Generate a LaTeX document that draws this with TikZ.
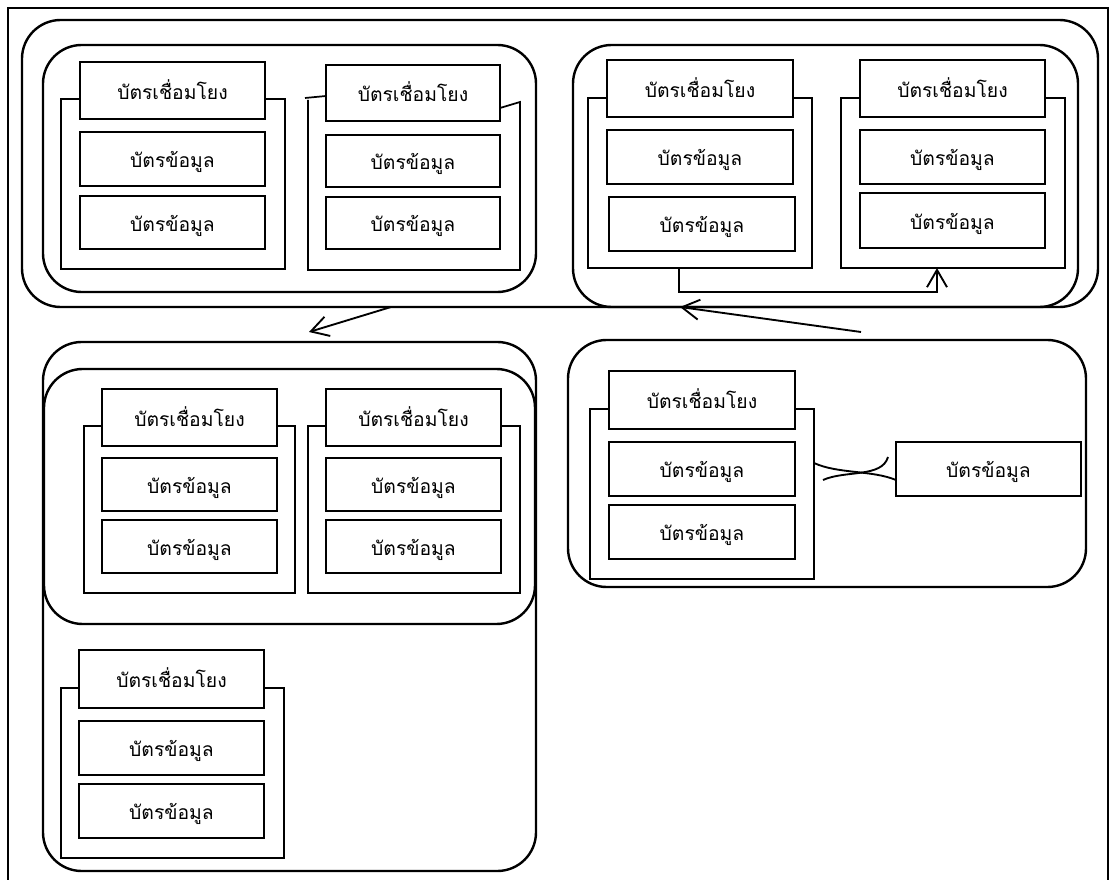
\documentclass[tikz,border=0pt]{standalone}
\usepackage{fontspec}
\newfontfamily\thaifont[Script=Thai]{Loma}
\usetikzlibrary{arrows.meta}

% a plain card: name, two opposite corners, text (text hangs below the centre line)
\newcommand\cardbox[6]{%
  \node[card, minimum width={(#4-#2)*0.75pt}, minimum height={(#5-#3)*0.75pt}]
    (#1) at ({(#2+#4)/2},{(#3+#5)/2}) {\raisebox{-6.5pt}[0pt][0pt]{#6}};}
% open tray under a link card: left x, right x, top y, bottom y, card left x, card right x
\newcommand\tray[6]{\draw[trayline] (#5,#3) -- (#1,#3) -- (#1,#4) -- (#2,#4) -- (#2,#3) -- (#6,#3);}

\tikzset{
  card/.style={draw, line width=0.9pt, inner sep=0pt, outer sep=0pt,
    font=\thaifont\fontsize{14.5}{16}\selectfont},
  panel/.style={draw, line width=1.8pt, rounded corners=29pt},
  trayline/.style={line width=1.3pt},
  link/.style={line width=1.4pt, -{Straight Barb[length=13pt,width=15pt,line width=1.4pt]}},
  joint/.style={line width=1.4pt}
}

\begin{document}
\begin{tikzpicture}[x=0.75pt,y=-0.75pt]
\useasboundingbox (0,0) rectangle (1109,880);

% frame
\draw[line width=1.4pt] (8,880) -- (8,8) -- (1108,8) -- (1108,880);

% panels
\draw[panel] (22,20) rectangle (1098,307);
\draw[panel] (43,45) rectangle (536,292);
\draw[panel] (573,45) rectangle (1078,307);
\draw[panel] (43,342) rectangle (536,871);
\draw[panel] (44,369) rectangle (535,624);
\draw[panel] (568,340) rectangle (1086,587);

% group 1
\cardbox{l1}{80}{62}{265}{119}{บัตรเชื่อมโยง}
\cardbox{d11}{80}{132}{265}{186}{บัตรข้อมูล}
\cardbox{d12}{80}{196}{265}{249}{บัตรข้อมูล}
\tray{61}{285}{99}{269}{80}{265}

% group 2 (tilted tray ends)
\cardbox{l2}{326}{65}{500}{121}{บัตรเชื่อมโยง}
\cardbox{d21}{326}{135}{500}{187}{บัตรข้อมูล}
\cardbox{d22}{326}{197}{500}{249}{บัตรข้อมูล}
\draw[trayline] (326,96) -- (305,98);
\draw[trayline] (308,100) -- (308,270) -- (520,270) -- (520,102) -- (500,108);

% group 3
\cardbox{l3}{607}{60}{793}{117}{บัตรเชื่อมโยง}
\cardbox{d31}{607}{130}{793}{184}{บัตรข้อมูล}
\cardbox{d32}{609}{197}{795}{251}{บัตรข้อมูล}
\tray{588}{812}{98}{268}{607}{793}

% group 4
\cardbox{l4}{860}{60}{1045}{117}{บัตรเชื่อมโยง}
\cardbox{d41}{860}{130}{1045}{184}{บัตรข้อมูล}
\cardbox{d42}{860}{193}{1045}{248}{บัตรข้อมูล}
\tray{841}{1065}{98}{268}{860}{1045}

% group 5
\cardbox{l5}{102}{389}{277}{446}{บัตรเชื่อมโยง}
\cardbox{d51}{102}{458}{277}{511}{บัตรข้อมูล}
\cardbox{d52}{102}{520}{277}{573}{บัตรข้อมูล}
\tray{84}{295}{426}{593}{102}{277}

% group 6
\cardbox{l6}{326}{389}{501}{446}{บัตรเชื่อมโยง}
\cardbox{d61}{326}{458}{501}{511}{บัตรข้อมูล}
\cardbox{d62}{326}{520}{501}{573}{บัตรข้อมูล}
\tray{308}{520}{426}{593}{326}{501}

% group 7
\cardbox{l7}{79}{650}{264}{708}{บัตรเชื่อมโยง}
\cardbox{d71}{79}{721}{264}{775}{บัตรข้อมูล}
\cardbox{d72}{79}{784}{264}{838}{บัตรข้อมูล}
\tray{61}{284}{688}{858}{79}{264}

% group 8 and the loose card
\cardbox{l8}{609}{371}{795}{429}{บัตรเชื่อมโยง}
\cardbox{d81}{609}{442}{795}{496}{บัตรข้อมูล}
\cardbox{d82}{609}{505}{795}{559}{บัตรข้อมูล}
\tray{590}{814}{409}{579}{609}{795}
\cardbox{lone}{896}{442}{1081}{496}{บัตรข้อมูล}

% connector ends
\coordinate (t3) at (679,268);
\coordinate (t4) at (937,268);
\coordinate (top1) at (391,307);
\coordinate (low1) at (309,332);
\coordinate (top2) at (680,307);
\coordinate (low2) at (861,332);
\coordinate (j1) at (814,463);
\coordinate (j2) at (896,480);
\coordinate (j3) at (823,480);
\coordinate (j4) at (888,457);

% connectors
\draw[link] (t3) -- ++(0,24) -| (t4);
\draw[link] (top1) -- (low1);
\draw[link] (low2) -- (top2);
\draw[joint] (j1) .. controls (838,474) and (872,470) .. (j2);
\draw[joint] (j3) .. controls (845,470) and (882,478) .. (j4);
\end{tikzpicture}
\end{document}
